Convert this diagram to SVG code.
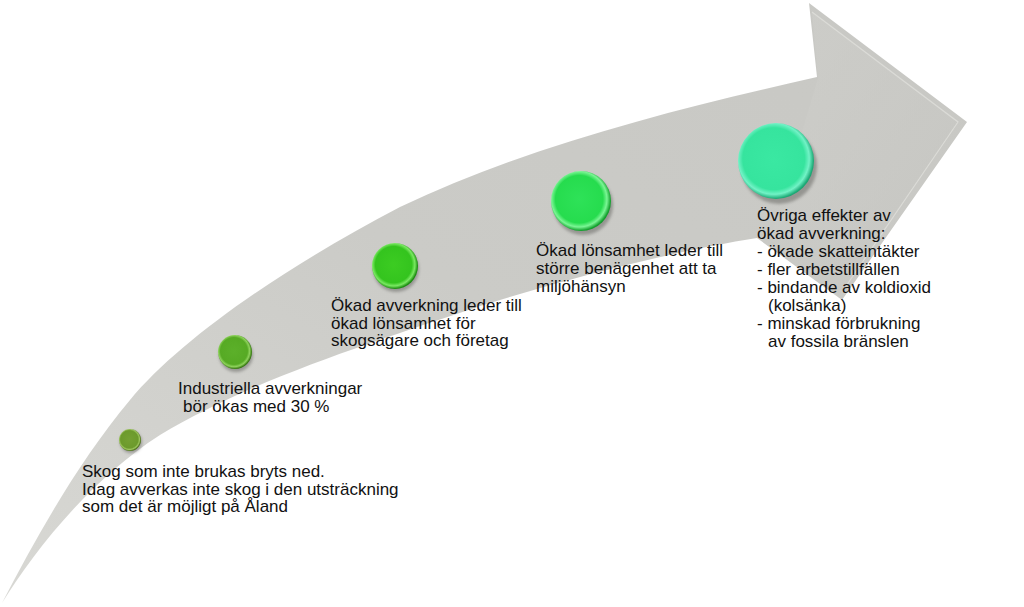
<svg xmlns="http://www.w3.org/2000/svg" width="1024" height="607" viewBox="0 0 1024 607">
  <defs>
    <linearGradient id="arrowGrad" x1="0" y1="1" x2="1" y2="0">
      <stop offset="0" stop-color="#d8d8d4"/>
      <stop offset="0.5" stop-color="#cbcbc7"/>
      <stop offset="1" stop-color="#c8c8c4"/>
    </linearGradient>
    <linearGradient id="headGrad" x1="0" y1="0" x2="1" y2="1">
      <stop offset="0" stop-color="#d0d0cc"/>
      <stop offset="1" stop-color="#c4c4c0"/>
    </linearGradient>
    <filter id="shadow" x="-50%" y="-50%" width="200%" height="200%">
      <feGaussianBlur stdDeviation="1.8"/>
    </filter>
    <radialGradient id="g1" cx="0.47" cy="0.47" r="0.55">
      <stop offset="0" stop-color="#74a032"/>
      <stop offset="0.72" stop-color="#6c9a2c"/>
      <stop offset="0.84" stop-color="#9cc45e"/>
      <stop offset="0.95" stop-color="#4e7418"/>
      <stop offset="1" stop-color="#3e5e12"/>
    </radialGradient>
    <radialGradient id="g2" cx="0.47" cy="0.47" r="0.55">
      <stop offset="0" stop-color="#5cb02a"/>
      <stop offset="0.72" stop-color="#56aa24"/>
      <stop offset="0.84" stop-color="#8ed25c"/>
      <stop offset="0.95" stop-color="#3a7c14"/>
      <stop offset="1" stop-color="#2e660e"/>
    </radialGradient>
    <radialGradient id="g3" cx="0.47" cy="0.47" r="0.55">
      <stop offset="0" stop-color="#3ccc22"/>
      <stop offset="0.72" stop-color="#34c41e"/>
      <stop offset="0.84" stop-color="#7ae862"/>
      <stop offset="0.95" stop-color="#1e9012"/>
      <stop offset="1" stop-color="#187a0e"/>
    </radialGradient>
    <radialGradient id="g4" cx="0.47" cy="0.47" r="0.55">
      <stop offset="0" stop-color="#2ee258"/>
      <stop offset="0.72" stop-color="#26dc4e"/>
      <stop offset="0.84" stop-color="#7af594"/>
      <stop offset="0.95" stop-color="#16a430"/>
      <stop offset="1" stop-color="#128c28"/>
    </radialGradient>
    <radialGradient id="g5" cx="0.47" cy="0.47" r="0.55">
      <stop offset="0" stop-color="#3ae8a2"/>
      <stop offset="0.74" stop-color="#36e49e"/>
      <stop offset="0.85" stop-color="#72f2c6"/>
      <stop offset="0.95" stop-color="#20ae7a"/>
      <stop offset="1" stop-color="#189266"/>
    </radialGradient>
  </defs>
  <style>
    .t { font-family: "Liberation Sans", Arial, sans-serif; font-size: 17px; fill: #111; }
    .sh { fill: #6a6a66; opacity: 0.55; filter: url(#shadow); }
  </style>

  <g id="arrow">
    <path d="M 2 603 C 40 530, 80 460, 130 400 C 180 340, 280 270, 400 207 C 530 145, 680 108, 817 77 L 809 3 L 967 122 L 842 300 L 757 238 C 680 250, 580 275, 480 306 C 380 340, 250 380, 160 435 C 90 480, 35 550, 2 603 Z" fill="url(#arrowGrad)"/>
    <polygon points="812,12 958,122 842,292 770,240 818,78" fill="url(#headGrad)" opacity="0.6"/>
    <polyline points="812,12 958,122 842,292" fill="none" stroke="#e2e2de" stroke-width="1.2" opacity="0.7"/>
  </g>

  <g id="node1">
    <circle class="sh" cx="131" cy="442" r="11"/>
    <circle cx="130" cy="440" r="11" fill="url(#g1)"/>
    <text class="t" x="82" y="477">Skog som inte brukas bryts ned.</text>
    <text class="t" x="82" y="495">Idag avverkas inte skog i den utsträckning</text>
    <text class="t" x="82" y="512">som det är möjligt på Åland</text>
  </g>

  <g id="node2">
    <circle class="sh" cx="236" cy="355" r="17"/>
    <circle cx="235" cy="352" r="17" fill="url(#g2)"/>
    <text class="t" x="178" y="394">Industriella avverkningar</text>
    <text class="t" x="183" y="412">bör ökas med 30 %</text>
  </g>

  <g id="node3">
    <circle class="sh" cx="396" cy="269" r="23"/>
    <circle cx="395" cy="266" r="23" fill="url(#g3)"/>
    <text class="t" x="331" y="311">Ökad avverkning leder till</text>
    <text class="t" x="331" y="329">ökad lönsamhet för</text>
    <text class="t" x="331" y="346">skogsägare och företag</text>
  </g>

  <g id="node4">
    <circle class="sh" cx="583" cy="205" r="30"/>
    <circle cx="581" cy="201" r="30" fill="url(#g4)"/>
    <text class="t" x="536" y="256">Ökad lönsamhet leder till</text>
    <text class="t" x="536" y="274">större benägenhet att ta</text>
    <text class="t" x="536" y="292">miljöhänsyn</text>
  </g>

  <g id="node5">
    <circle class="sh" cx="779" cy="166" r="38"/>
    <circle cx="776" cy="161" r="38" fill="url(#g5)"/>
    <text class="t" x="757" y="221">Övriga effekter av</text>
    <text class="t" x="757" y="239">ökad avverkning:</text>
    <text class="t" x="757" y="257">- ökade skatteintäkter</text>
    <text class="t" x="757" y="275">- fler arbetstillfällen</text>
    <text class="t" x="757" y="293">- bindande av koldioxid</text>
    <text class="t" x="768" y="311">(kolsänka)</text>
    <text class="t" x="757" y="329">- minskad förbrukning</text>
    <text class="t" x="768" y="347">av fossila bränslen</text>
  </g>
</svg>
